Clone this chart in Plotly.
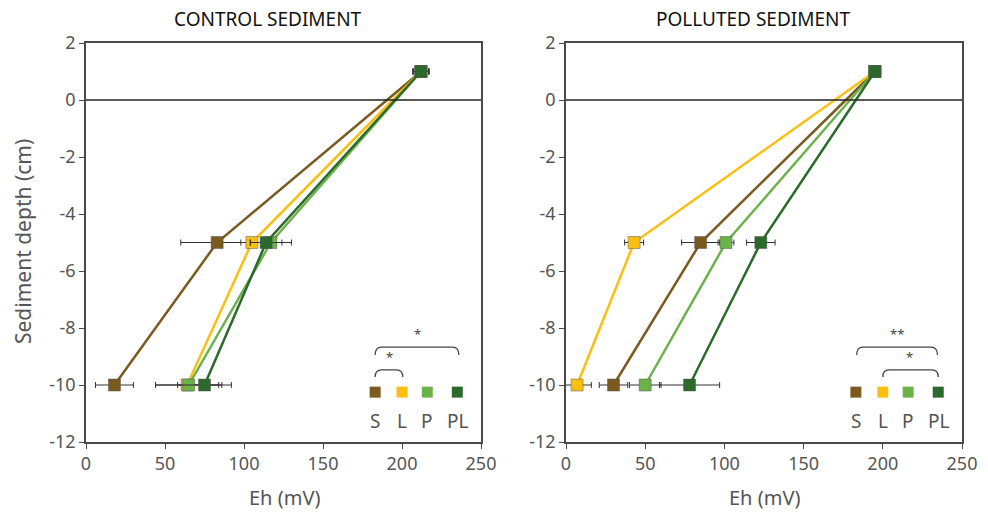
import plotly.graph_objects as go
from plotly.subplots import make_subplots

# ---------------- data ----------------
depth = [1, -5, -10]
series = ["S", "L", "P", "PL"]
colors = {"S": "#7a5a1f", "L": "#fbbf13", "P": "#6cb24b", "PL": "#2c6a2c"}

control_eh = {
    "S": [212, 83, 18],
    "L": [212, 105, 64],
    "P": [212, 117, 65],
    "PL": [212, 114, 75],
}
control_err = {
    "S": [5, 23, 12],
    "L": [5, 7, 20],
    "P": [5, 13, 21],
    "PL": [5, 10, 17],
}
polluted_eh = {
    "S": [195, 85, 30],
    "L": [195, 43, 7],
    "P": [195, 101, 50],
    "PL": [195, 123, 78],
}
polluted_err = {
    "S": [3, 12, 9],
    "L": [3, 6, 9],
    "P": [3, 5, 10],
    "PL": [3, 9, 19],
}
panel_titles = ["CONTROL SEDIMENT", "POLLUTED SEDIMENT"]
x_ticks = [0, 50, 100, 150, 200, 250]
y_ticks = [-12, -10, -8, -6, -4, -2, 0, 2]
y_tick_text = [str(v) for v in y_ticks]  # plain hyphen minus

# legend key positions (data units inside each panel)
key_x = [183, 200, 216, 235]
key_y = -10.25
key_label_y = -11.25

FONT = "Noto Sans"
AX = "#4a4a4a"
TXT = "#555555"

# body margin is removed (post_script), so figure covers the whole window
OFF = 0
W, H = 988 - OFF, 517 - OFF
ML, MT = 86 - OFF, 43 - OFF
MR = W - (962 - OFF)
MB = H - (442 - OFF)
PW, PH = W - ML - MR, H - MT - MB


def px_x(p):  # page pixel -> paper
    return (p - OFF - ML) / PW


def px_y(p):
    return 1 - (p - OFF - MT) / PH


fig = make_subplots(rows=1, cols=2)

for col, (eh, err) in enumerate([(control_eh, control_err), (polluted_eh, polluted_err)], start=1):
    ref = "" if col == 1 else str(col)
    for s in series:
        fig.add_trace(go.Scatter(
            x=eh[s], y=depth, mode="lines+markers",
            line=dict(color=colors[s], width=2.5),
            marker=dict(symbol="square", size=12, color=colors[s],
                        line=dict(color="rgba(80,80,80,0.6)", width=0.8)),
            error_x=dict(type="data", array=err[s], color="#333333", thickness=1, width=3),
            showlegend=False, name=s,
        ), row=1, col=col)
    # key squares
    fig.add_trace(go.Scatter(
        x=key_x, y=[key_y] * 4, mode="markers",
        marker=dict(symbol="square", size=11, color=[colors[s] for s in series]),
        showlegend=False, hoverinfo="skip",
    ), row=1, col=col)
    for kx, s in zip(key_x, series):
        fig.add_annotation(x=kx, y=key_label_y, text=s, showarrow=False,
                           xref=f"x{ref}", yref=f"y{ref}",
                           font=dict(family=FONT, size=19, color=TXT))
    # zero line
    fig.add_shape(type="line", x0=0, x1=250, y0=0, y1=0,
                  xref=f"x{ref}", yref=f"y{ref}",
                  line=dict(color="#222222", width=1.5))


def bracket(xa, xb, ytop, yend, col):
    r = 4
    ref = "" if col == 1 else str(col)
    path = (f"M {xa},{yend} Q {xa},{ytop} {xa + r},{ytop} "
            f"L {xb - r},{ytop} Q {xb},{ytop} {xb},{yend}")
    fig.add_shape(type="path", path=path, xref=f"x{ref}", yref=f"y{ref}",
                  line=dict(color="#444444", width=1.3))


def star(x, y, t, col):
    ref = "" if col == 1 else str(col)
    fig.add_annotation(x=x, y=y, text=t, showarrow=False, xref=f"x{ref}", yref=f"y{ref}",
                       font=dict(family=FONT, size=13, color="#444444"))

# control significance
bracket(183, 236, -8.67, -8.95, 1)
star(209.5, -8.2, "*", 1)
bracket(183, 200.5, -9.47, -9.72, 1)
star(191.8, -9.0, "*", 1)
# polluted significance
bracket(183.5, 234.5, -8.67, -8.95, 2)
star(209, -8.2, "**", 2)
bracket(200, 235, -9.47, -9.72, 2)
star(217, -9.0, "*", 2)

ax_common = dict(showline=True, linecolor=AX, linewidth=1.5, mirror=True,
                 ticks="outside", ticklen=5, tickcolor=AX, tickwidth=1.2,
                 showgrid=False, zeroline=False, automargin=False,
                 tickfont=dict(family=FONT, size=18, color=TXT))

x1_dom = [px_x(86), px_x(481)]
x2_dom = [px_x(566), px_x(962)]

fig.update_layout(
    width=W, height=H,
    margin=dict(l=ML, r=MR, t=MT, b=MB, autoexpand=False),
    plot_bgcolor="white", paper_bgcolor="white",
    xaxis=dict(domain=x1_dom, range=[0, 250], tickvals=x_ticks, **ax_common),
    xaxis2=dict(domain=x2_dom, range=[0, 250], tickvals=x_ticks, **ax_common),
    yaxis=dict(range=[-12, 2], tickvals=y_ticks, ticktext=y_tick_text, **ax_common),
    yaxis2=dict(range=[-12, 2], tickvals=y_ticks, ticktext=y_tick_text, **ax_common),
)

# panel titles
for t, cx in zip(panel_titles, [268, 753]):
    fig.add_annotation(text=t, x=px_x(cx), y=px_y(19), xref="paper", yref="paper",
                       xanchor="center", yanchor="middle", showarrow=False,
                       font=dict(family=FONT, size=19, color="#111111"))
# axis titles
for cx in [284, 764]:
    fig.add_annotation(text="Eh (mV)", x=px_x(cx), y=px_y(497), xref="paper", yref="paper",
                       xanchor="center", yanchor="middle", showarrow=False,
                       font=dict(family=FONT, size=20, color=TXT))
fig.add_annotation(text="Sediment depth (cm)", x=px_x(23), y=px_y(242), xref="paper", yref="paper",
                   xanchor="center", yanchor="middle", showarrow=False, textangle=-90,
                   font=dict(family=FONT, size=21, color=TXT))

fig.write_html("out.html", config={"displayModeBar": False},
               post_script="document.body.style.margin='0';document.body.style.overflow='hidden';")
